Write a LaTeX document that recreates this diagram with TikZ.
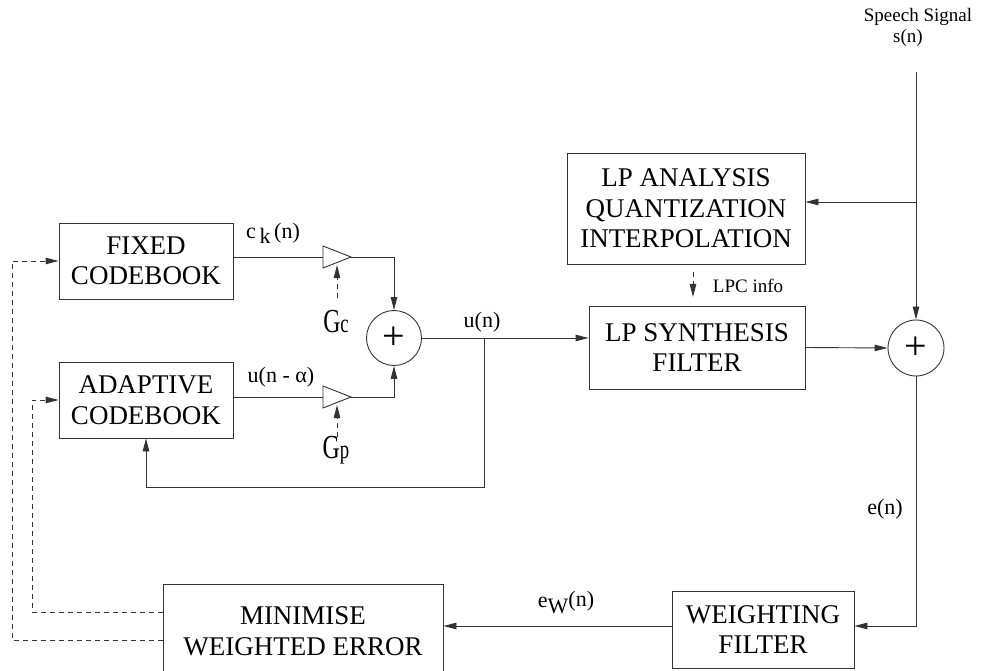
\documentclass[tikz,border=0pt]{standalone}
\usepackage{fontspec}
\setmainfont{Liberation Serif}
\usetikzlibrary{arrows.meta, shapes.geometric}
\definecolor{celpLine}{HTML}{333333}
\tikzset{
  celpfig/.style={
    x=1pt, y=-1pt,
    >={Triangle[length=13pt, width=6.5pt]},
  },
  blockbox/.style={
    draw=celpLine, line width=0.9pt, align=center, inner sep=0pt,
    font=\fontsize{27}{30.5}\selectfont,
  },
  gainamp/.style={
    draw=celpLine, line width=0.9pt, isosceles triangle,
    isosceles triangle stretches, shape border rotate=0,
    minimum width=22pt, minimum height=28pt, inner sep=0pt, outer sep=0pt,
    anchor=west,
  },
  sumnode/.style={
    draw=celpLine, line width=0.9pt, circle, minimum size=55pt,
    inner sep=0pt, font=\fontsize{40}{40}\selectfont,
  },
  sig/.style={draw=celpLine, line width=0.9pt},
  sigarrow/.style={sig, ->},
  % Steuergroessen: gestrichelt
  ctrl/.style={draw=celpLine, line width=0.9pt, dash pattern=on 5pt off 4pt, ->},
  siglabel/.style={font=\fontsize{22}{22}\selectfont, inner sep=0pt},
  smalllabel/.style={font=\fontsize{19}{21}\selectfont, inner sep=0pt},
  gainlabel/.style={font=\fontsize{28}{28}\selectfont, inner sep=0pt, anchor=base},
}
\newcommand{\gsub}[1]{{\fontsize{22}{22}\selectfont #1}}
\newcommand{\gainsym}[1]{\scalebox{0.85}[1.2]{G\gsub{#1}}}

\begin{document}
\begin{tikzpicture}[celpfig]
  \useasboundingbox (0,0) rectangle (989,671);
  \clip (0,0) rectangle (989,671);
  \node[blockbox, minimum width=174pt, minimum height=76pt] (FixedCB) at (146,261) {FIXED\\CODEBOOK};
  \node[blockbox, minimum width=174pt, minimum height=76pt] (AdaptiveCB) at (146,400) {ADAPTIVE\\CODEBOOK};
  \node[gainamp] (GainC) at (323,257) {};
  \node[gainamp] (GainP) at (323,397) {};
  \node[sumnode] (SumExc) at (394,338) {+};
  \node[blockbox, minimum width=238pt, minimum height=111pt] (LPAnalysis) at (686,208.5) {LP ANALYSIS\\QUANTIZATION\\INTERPOLATION};
  \node[blockbox, minimum width=216pt, minimum height=83pt] (LPSynthesis) at (697,347.5) {LP SYNTHESIS\\FILTER};
  \node[sumnode, minimum size=56pt] (SumErr) at (916,348) {+};
  \node[blockbox, minimum width=182pt, minimum height=77pt] (WeightFilt) at (763,629.5) {WEIGHTING\\FILTER};
  \node[blockbox, minimum width=280pt, minimum height=95pt] (MinErr) at (303,631.5) {MINIMISE\\WEIGHTED ERROR};

  \coordinate (SpeechIn) at (916,72);
  \coordinate (SpeechTap) at (916,202);
  \coordinate (ExcTap) at (484,338);
  \coordinate (FbCorner) at (484,487);
  \coordinate (ErrCorner) at (916,626);
  \coordinate (FbFixed) at (12,640);
  \coordinate (FbAdapt) at (32,612);
  \coordinate (GcIn) at (337,298);
  \coordinate (GpIn) at (337,437);
  \coordinate (LpcFrom) at (693,272);
  \coordinate (LpcTo) at (693,297);

  \draw[sig] (FixedCB.east |- GainC.west) -- (GainC.west);
  \draw[sigarrow] (GainC.apex) -| (SumExc.north);
  \draw[sig] (AdaptiveCB.east |- GainP.west) -- (GainP.west);
  \draw[sigarrow] (GainP.apex) -| (SumExc.south);
  \draw[ctrl] (GcIn) -- (GcIn |- GainC.south);
  \draw[ctrl] (GpIn) -- (GpIn |- GainP.south);
  \draw[sigarrow] (SumExc.east) -- (SumExc.east -| LPSynthesis.west);
  \draw[sigarrow] (ExcTap) -- (FbCorner) -| (AdaptiveCB.south);
  \draw[sigarrow] (SpeechIn) -- (SumErr.north);
  \draw[sigarrow] (SpeechTap) -- (SpeechTap -| LPAnalysis.east);
  \draw[ctrl] (LpcFrom) -- (LpcTo);
  \draw[sigarrow] (LPSynthesis.east) -- (SumErr.west);
  \draw[sigarrow] (SumErr.south) -- (ErrCorner) -- (ErrCorner -| WeightFilt.east);
  \draw[sigarrow] (ErrCorner -| WeightFilt.west) -- (ErrCorner -| MinErr.east);
  \draw[ctrl] (MinErr.west |- FbFixed) -- (FbFixed) |- (FixedCB.west);
  \draw[ctrl] (MinErr.west |- FbAdapt) -- (FbAdapt) |- (AdaptiveCB.west);

  \node[smalllabel] (SpeechLbl) at (918,17) {Speech Signal};
  \node[smalllabel] (SpeechSym) at (908,38) {s(n)};
  \node[siglabel] (CkLbl) at (273,233) {c\,\raisebox{-5pt}{k}\,(n)};
  \node[siglabel] (UaLbl) at (281,377) {u(n - α)};
  \node[gainlabel] (GcLbl) at (336,333) {\gainsym{c}};
  \node[gainlabel] (GpLbl) at (336,458) {\gainsym{p}};
  \node[siglabel] (UnLbl) at (482,322) {u(n)};
  \node[smalllabel] (LpcLbl) at (748,286) {LPC info};
  \node[siglabel] (EnLbl) at (885,509) {e(n)};
  \node[siglabel] (EwLbl) at (566,603) {e\raisebox{-6pt}{W}\raisebox{1pt}{(n)}};
\end{tikzpicture}
\end{document}
